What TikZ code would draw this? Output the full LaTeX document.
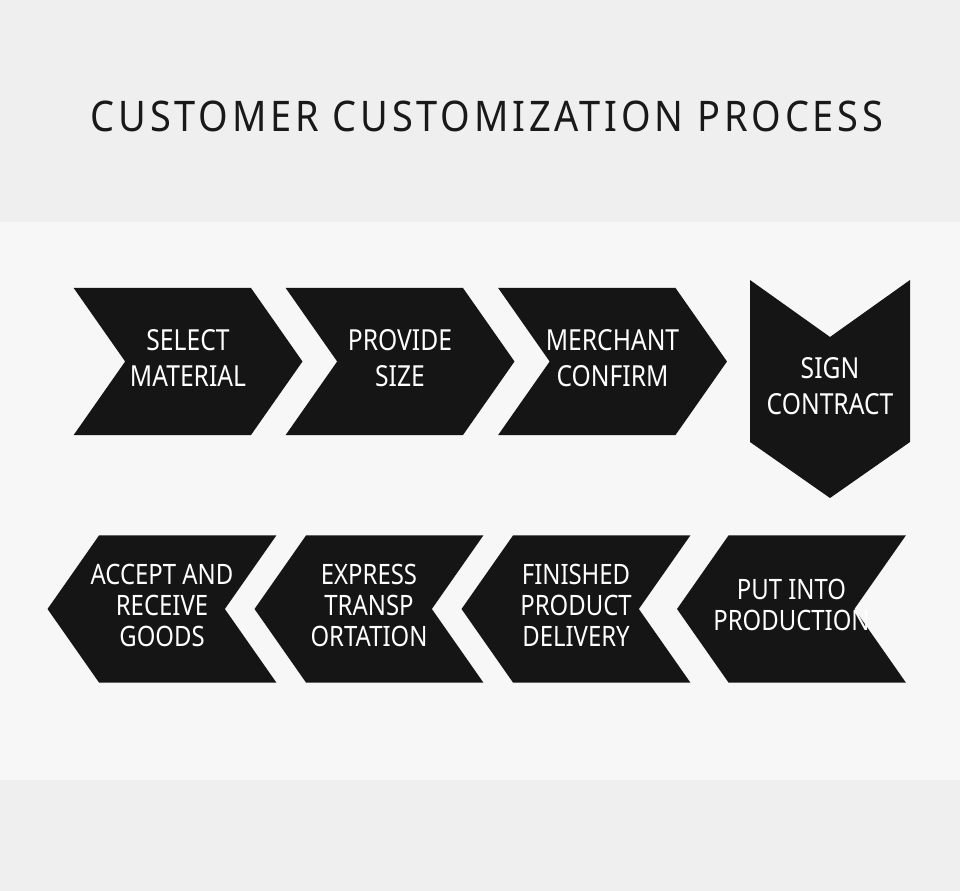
\documentclass[tikz,border=0pt]{standalone}
\usepackage{fontspec}
\setmainfont{Noto Sans}
\newfontfamily\titlefont[LetterSpace=9,FakeStretch=0.9]{Noto Sans}
\newfontfamily\chevfont[FakeStretch=0.85]{Noto Sans}
\usetikzlibrary{shapes.symbols}

\definecolor{bandgray}{HTML}{EFEFEF}
\definecolor{midgray}{HTML}{F7F7F7}
\definecolor{chevblack}{HTML}{151515}

% centred lines that do not widen the chevron
\newcommand\stacklines[1]{\makebox[0pt]{\begin{tabular}{@{}c@{}}#1\end{tabular}}}

\begin{document}
\begin{tikzpicture}[
  x=0.02cm, y=-0.02cm,
  chev/.style={signal, fill=chevblack, draw=none, text=white,
    inner sep=0pt, signal pointer angle=110,
    minimum width=4.58cm, minimum height=2.95cm,
    font=\chevfont\fontsize{16.5}{20.5}\selectfont},
  fwd/.style={chev, signal from=west, signal to=east},
  back/.style={chev, signal from=east, signal to=west,
    font=\chevfont\fontsize{16}{17.6}\selectfont},
  downtext/.style={text=white, inner sep=0pt,
    font=\chevfont\fontsize{16.5}{20.5}\selectfont},
  title/.style={font=\titlefont\fontsize{24}{28}\selectfont, text=black!90}
]
% background bands
\useasboundingbox (0,0) rectangle (960,891);
\fill[bandgray] (0,0) rectangle (960,222);
\fill[midgray] (0,222) rectangle (960,780);
\fill[bandgray] (0,780) rectangle (960,891);

\node[title] (head) at (487,116) {CUSTOMER CUSTOMIZATION PROCESS};

% first row, left to right
\node[fwd] (select) at (188,361.5) {\stacklines{SELECT\\MATERIAL}};
\node[fwd] (size) at (400,361.5) {\stacklines{PROVIDE\\SIZE}};
\node[fwd] (confirm) at (612.5,361.5) {\stacklines{MERCHANT\\CONFIRM}};

% turning chevron, pointing down
\fill[chevblack] (750,280) -- (830,337) -- (910,280) -- (910,442)
  -- (830,498) -- (750,442) -- cycle;
\node[downtext] (sign) at (830,389) {\stacklines{SIGN\\CONTRACT}};

% second row, right to left
\node[back] (produce) at (791.5,609) {\stacklines{PUT INTO\\PRODUCTION}};
\node[back] (deliver) at (576,609) {\stacklines{FINISHED\\PRODUCT\\DELIVERY}};
\node[back] (express) at (369,609) {\stacklines{EXPRESS\\TRANSP\\ORTATION}};
\node[back] (accept) at (162,609) {\stacklines{ACCEPT AND\\RECEIVE\\GOODS}};
\end{tikzpicture}
\end{document}
